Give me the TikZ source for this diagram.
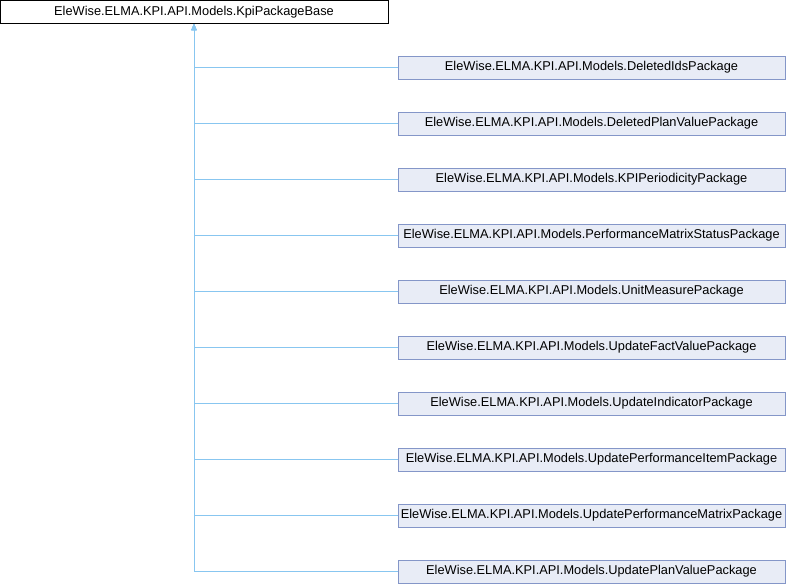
\documentclass[tikz,border=0pt]{standalone}
\usepackage{fontspec}
\setmainfont{Liberation Sans}
\usepackage{tikz}
\usetikzlibrary{arrows.meta,positioning,calc}
\usepackage{xcolor}
\definecolor{dxline}{RGB}{136,198,240}
\definecolor{dxborder}{RGB}{132,150,200}
\definecolor{dxfill}{RGB}{232,236,246}
\tikzstyle{inherit} = [line width=1pt,{Triangle[width=5pt,length=6pt]}-,color=dxline]
\tikzstyle{baseclass} = [rectangle, minimum width=388pt, minimum height=23pt, inner sep=0pt, text centered, draw=black, fill=white, line width=1pt, font=\fontsize{12.8}{15}\selectfont]
\tikzstyle{derived} = [rectangle, minimum width=387pt, minimum height=23pt, inner sep=0pt, text centered, draw=dxborder, fill=dxfill, line width=1pt, font=\fontsize{12.8}{15}\selectfont]

\begin{document}
\begin{tikzpicture}[x=1pt, y=-1pt]
    \useasboundingbox (0,0) rectangle (786,584);

    % Base class
    \node[baseclass] (base) at (194, 12) {EleWise.ELMA.KPI.API.Models.KpiPackageBase};

    % Derived classes
    \node[derived] (deleted) at (591.5, 67.5) {EleWise.ELMA.KPI.API.Models.DeletedIdsPackage};
    \node[derived] (delplan) at (591.5, 123.5) {EleWise.ELMA.KPI.API.Models.DeletedPlanValuePackage};
    \node[derived] (period) at (591.5, 179.5) {EleWise.ELMA.KPI.API.Models.KPIPeriodicityPackage};
    \node[derived] (status) at (591.5, 235.5) {EleWise.ELMA.KPI.API.Models.PerformanceMatrixStatusPackage};
    \node[derived] (unit) at (591.5, 291.5) {EleWise.ELMA.KPI.API.Models.UnitMeasurePackage};
    \node[derived] (fact) at (591.5, 347.5) {EleWise.ELMA.KPI.API.Models.UpdateFactValuePackage};
    \node[derived] (indic) at (591.5, 403.5) {EleWise.ELMA.KPI.API.Models.UpdateIndicatorPackage};
    \node[derived] (item) at (591.5, 459.5) {EleWise.ELMA.KPI.API.Models.UpdatePerformanceItemPackage};
    \node[derived] (matrix) at (591.5, 515.5) {EleWise.ELMA.KPI.API.Models.UpdatePerformanceMatrixPackage};
    \node[derived] (plan) at (591.5, 571.5) {EleWise.ELMA.KPI.API.Models.UpdatePlanValuePackage};

    % Inheritance arrows
    \draw[inherit] (base.south) |- (deleted.west);
    \draw[inherit] (base.south) |- (delplan.west);
    \draw[inherit] (base.south) |- (period.west);
    \draw[inherit] (base.south) |- (status.west);
    \draw[inherit] (base.south) |- (unit.west);
    \draw[inherit] (base.south) |- (fact.west);
    \draw[inherit] (base.south) |- (indic.west);
    \draw[inherit] (base.south) |- (item.west);
    \draw[inherit] (base.south) |- (matrix.west);
    \draw[inherit] (base.south) |- (plan.west);
\end{tikzpicture}
\end{document}
